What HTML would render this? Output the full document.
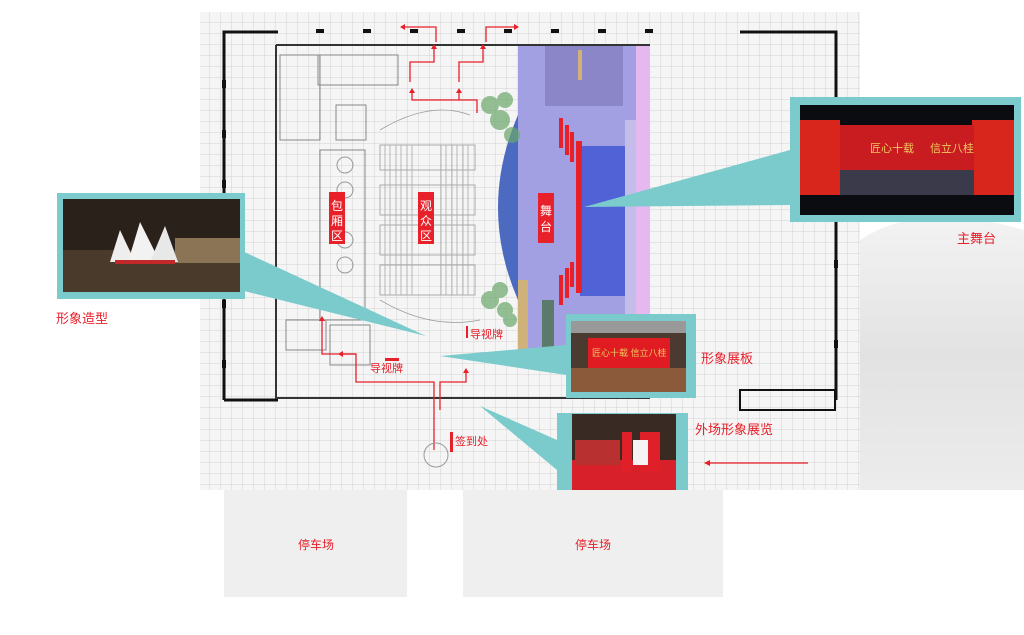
<!DOCTYPE html>
<html><head><meta charset="utf-8"><style>
body{margin:0;width:1024px;height:630px;overflow:hidden;background:#fff;font-family:"Liberation Sans","Noto Sans CJK SC",sans-serif}
</style></head><body>
<svg width="1024" height="630" viewBox="0 0 1024 630" xmlns="http://www.w3.org/2000/svg" font-family="Liberation Sans, Noto Sans CJK SC, sans-serif">
<defs>
<pattern id="g" width="11" height="11" patternUnits="userSpaceOnUse"><path d="M11 0H0V11" fill="none" stroke="#c6c6c6" stroke-width="0.7"/></pattern>
<linearGradient id="cl" x1="0" y1="0" x2="0" y2="1"><stop offset="0" stop-color="#f3f3f3"/><stop offset="0.5" stop-color="#e2e2e2"/><stop offset="1" stop-color="#ececec"/></linearGradient>
</defs>
<path d="M860 240 Q920 200 1024 230 V490 H860Z" fill="url(#cl)"/>
<rect x="200" y="12" width="660" height="478" fill="#f5f5f5"/>
<rect x="200" y="12" width="660" height="478" fill="url(#g)"/>
<path d="M224 400 V32 H278 M740 32 H836 V400 M224 400 H278" stroke="#111" stroke-width="3" fill="none"/>
<path d="M276 45 H650 M276 45 V398 H650" stroke="#333" stroke-width="2" fill="none"/>
<path d="M740 390 H835 V410 H740Z" fill="none" stroke="#111" stroke-width="2"/>
<g fill="#111">
<rect x="316" y="29" width="8" height="4"/><rect x="363" y="29" width="8" height="4"/><rect x="410" y="29" width="8" height="4"/><rect x="457" y="29" width="8" height="4"/><rect x="504" y="29" width="8" height="4"/><rect x="551" y="29" width="8" height="4"/><rect x="598" y="29" width="8" height="4"/><rect x="645" y="29" width="8" height="4"/>
<rect x="222" y="80" width="4" height="8"/><rect x="222" y="130" width="4" height="8"/><rect x="222" y="180" width="4" height="8"/><rect x="222" y="250" width="4" height="8"/><rect x="222" y="300" width="4" height="8"/><rect x="222" y="360" width="4" height="8"/>
<rect x="834" y="130" width="4" height="8"/><rect x="834" y="180" width="4" height="8"/><rect x="834" y="260" width="4" height="8"/><rect x="834" y="340" width="4" height="8"/>
</g>
<g fill="none" stroke="#888" stroke-width="1">
<rect x="280" y="55" width="40" height="85"/><rect x="318" y="55" width="80" height="30"/><rect x="336" y="105" width="30" height="35"/>
<rect x="320" y="150" width="45" height="170"/><rect x="286" y="320" width="40" height="30"/><rect x="330" y="325" width="40" height="40"/>
</g>
<g fill="none" stroke="#999" stroke-width="0.8">
<path d="M380 130 Q430 100 470 115"/>
<rect x="380" y="145" width="95" height="25"/><rect x="380" y="185" width="95" height="30"/><rect x="380" y="225" width="95" height="30"/><rect x="380" y="265" width="95" height="30"/>
<path d="M380 300 Q430 330 480 320"/>
</g>
<g stroke="#aaa" stroke-width="0.8">
<path d="M385 145V295M390 145V295M396 145V295M401 145V295M407 145V295M412 145V295M441 145V295M446 145V295M452 145V295M457 145V295M463 145V295M468 145V295"/>
</g>
<g fill="none" stroke="#999"><circle cx="345" cy="165" r="8"/><circle cx="345" cy="190" r="8"/><circle cx="345" cy="240" r="8"/><circle cx="345" cy="265" r="8"/></g>
<rect x="518" y="46" width="132" height="314" fill="#a2a0e2"/>
<rect x="545" y="46" width="78" height="60" fill="#8a86c8"/>
<rect x="580" y="146" width="46" height="150" fill="#5062d6"/>
<rect x="625" y="120" width="12" height="240" fill="#c4bdea"/>
<rect x="636" y="46" width="14" height="314" fill="#e6b8f0"/>
<path d="M518 115 Q478 208 518 300 Z" fill="#4b6ac0"/>
<rect x="518" y="280" width="10" height="80" fill="#cfb27a"/>
<rect x="542" y="300" width="12" height="50" fill="#5c7a6a"/>
<rect x="578" y="50" width="4" height="30" fill="#cfb27a"/>
<g fill="#6aa86a" opacity="0.7"><circle cx="490" cy="105" r="9"/><circle cx="505" cy="100" r="8"/><circle cx="500" cy="120" r="10"/><circle cx="512" cy="135" r="8"/><circle cx="490" cy="300" r="9"/><circle cx="505" cy="310" r="8"/><circle cx="500" cy="290" r="8"/><circle cx="510" cy="320" r="7"/></g>
<g fill="#e8202a"><rect x="559" y="118" width="4" height="30"/><rect x="565" y="125" width="4" height="30"/><rect x="570" y="132" width="4" height="30"/><rect x="576" y="141" width="6" height="152"/><rect x="559" y="275" width="4" height="30"/><rect x="565" y="268" width="4" height="30"/><rect x="570" y="262" width="4" height="25"/></g>
<rect x="329" y="192" width="16" height="52" fill="#e8202a"/><text x="337" y="210" font-size="12" fill="#fff" text-anchor="middle">包</text><text x="337" y="225" font-size="12" fill="#fff" text-anchor="middle">厢</text><text x="337" y="240" font-size="12" fill="#fff" text-anchor="middle">区</text>
<rect x="418" y="192" width="16" height="52" fill="#e8202a"/><text x="426" y="210" font-size="12" fill="#fff" text-anchor="middle">观</text><text x="426" y="225" font-size="12" fill="#fff" text-anchor="middle">众</text><text x="426" y="240" font-size="12" fill="#fff" text-anchor="middle">区</text>
<rect x="538" y="193" width="16" height="50" fill="#e8202a"/><text x="546" y="215" font-size="12" fill="#fff" text-anchor="middle">舞</text><text x="546" y="231" font-size="12" fill="#fff" text-anchor="middle">台</text>
<g fill="none" stroke="#e8202a" stroke-width="1.3">
<path d="M436 42 V27 H402"/><path d="M486 42 V27 H516"/>
<path d="M410 82 V62 H434 V48"/><path d="M459 82 V62 H483 V48"/>
<path d="M477 113 V100 H412 V92"/><path d="M459 100 V92"/>
<path d="M434 410 V382 H356 V354 H322 V320"/><path d="M356 354 H340"/>
<path d="M440 410 V382 H466 V372"/><path d="M434 410 V450"/>
<path d="M808 463 H710"/>
</g>
<g fill="#e8202a"><path d="M400 27 l5 -3 v6z"/><path d="M519 27 l-5 -3 v6z"/><path d="M434 44 l-3 5 h6z"/><path d="M483 44 l-3 5 h6z"/><path d="M412 88 l-3 5 h6z"/><path d="M459 88 l-3 5 h6z"/><path d="M322 316 l-3 5 h6z"/><path d="M338 354 l5 -3 v6z"/><path d="M466 368 l-3 5 h6z"/><path d="M704 463 l6 -3 v6z"/></g>
<rect x="385" y="358" width="14" height="3" fill="#e8202a"/>
<rect x="466" y="326" width="2" height="12" fill="#e8202a"/>
<rect x="450" y="432" width="3" height="20" fill="#e8202a"/>
<text x="370" y="372" font-size="11" fill="#e8202a">导视牌</text>
<text x="470" y="338" font-size="11" fill="#e8202a">导视牌</text>
<text x="455" y="445" font-size="11" fill="#e8202a">签到处</text>
<circle cx="436" cy="455" r="12" fill="none" stroke="#999"/>
<g fill="#7ccbcc">
<path d="M240 250 L426 336 L240 290Z"/>
<path d="M790 150 L584 207 L790 205Z"/>
<path d="M566 345 L440 356 L566 375Z"/>
<path d="M557 440 L480 406 L557 470Z"/>
<rect x="57" y="193" width="188" height="106"/>
<rect x="790" y="97" width="231" height="125"/>
<rect x="566" y="314" width="130" height="84"/>
<rect x="557" y="413" width="131" height="77"/>
</g>
<rect x="63" y="199" width="177" height="93" fill="#2a211b"/>
<rect x="63" y="250" width="177" height="42" fill="#4a3a2c"/>
<rect x="175" y="238" width="65" height="25" fill="#8b7455"/>
<path d="M110 262 L120 230 L135 262Z" fill="#eee"/><path d="M128 262 L140 222 L160 262Z" fill="#f2f2f2"/><path d="M150 262 L165 226 L178 262Z" fill="#e8e8e8"/>
<path d="M115 262 H175" stroke="#c0282a" stroke-width="4"/>
<rect x="800" y="105" width="214" height="110" fill="#0b0b12"/>
<rect x="800" y="120" width="40" height="75" fill="#d8261c"/><rect x="972" y="120" width="42" height="75" fill="#d8261c"/>
<rect x="840" y="125" width="134" height="45" fill="#c81c20"/>
<rect x="840" y="170" width="134" height="25" fill="#3a3a4a"/>
<text x="870" y="152" font-size="11" fill="#f0c860">匠心十载</text><text x="930" y="152" font-size="11" fill="#f0c860">信立八桂</text>
<rect x="571" y="321" width="115" height="71" fill="#4a3a30"/>
<rect x="571" y="321" width="115" height="12" fill="#999"/>
<rect x="588" y="338" width="82" height="30" fill="#e01c22"/>
<text x="592" y="356" font-size="9" fill="#f0c860">匠心十载 信立八桂</text>
<rect x="571" y="368" width="115" height="24" fill="#8a5a3a"/>
<rect x="572" y="414" width="104" height="76" fill="#3a2a24"/>
<rect x="572" y="460" width="104" height="30" fill="#d8202a"/>
<rect x="575" y="440" width="45" height="25" fill="#b83030"/>
<rect x="622" y="432" width="10" height="40" fill="#e02028"/><rect x="640" y="432" width="20" height="40" fill="#e02028"/><rect x="633" y="440" width="15" height="25" fill="#f4f4f4"/>
<text x="957" y="243" font-size="13" fill="#e8202a">主舞台</text>
<text x="56" y="323" font-size="13" fill="#e8202a">形象造型</text>
<text x="701" y="363" font-size="13" fill="#e8202a">形象展板</text>
<text x="695" y="434" font-size="13" fill="#e8202a">外场形象展览</text>
<rect x="224" y="490" width="183" height="107" fill="#efefef"/>
<rect x="463" y="490" width="260" height="107" fill="#efefef"/>
<text x="316" y="549" font-size="12" fill="#e8202a" text-anchor="middle">停车场</text>
<text x="593" y="549" font-size="12" fill="#e8202a" text-anchor="middle">停车场</text>
</svg>
</body></html>
